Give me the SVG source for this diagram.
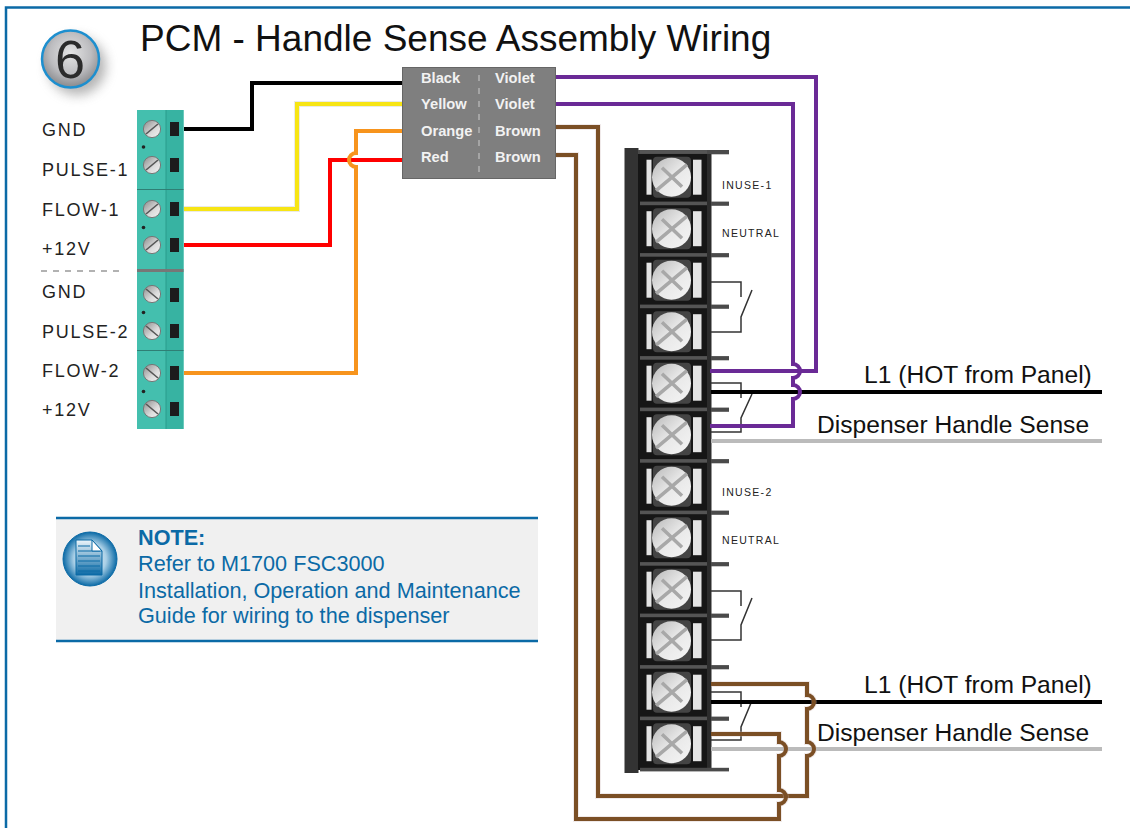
<svg xmlns="http://www.w3.org/2000/svg" xmlns:xlink="http://www.w3.org/1999/xlink" width="1130" height="828" viewBox="0 0 1130 828">
<style>
text{font-family:"Liberation Sans",Arial,sans-serif}
.w{fill:none;stroke-width:4;stroke-linejoin:miter}
.h{fill:none;stroke-width:6;stroke-opacity:.3;stroke-linejoin:miter}
.sw{fill:none;stroke:#333;stroke-width:1.5}
.lab{font-size:18px;letter-spacing:1.75px;fill:#222}
.tlab{font-size:10.5px;letter-spacing:1.3px;fill:#222}
.big{font-size:24.6px;fill:#111}
.box{font-size:14.7px;font-weight:bold;fill:#f2f2f2}
.note{font-size:21.65px;fill:#0b6aa6}
</style>
<defs>
<linearGradient id="gs" x1="0" y1="0" x2="1" y2="1"><stop offset="0" stop-color="#8a8a8a"/><stop offset=".6" stop-color="#dcdcdc"/><stop offset="1" stop-color="#f2f2f2"/></linearGradient>
<linearGradient id="gw" x1="0" y1="0" x2="1" y2="1"><stop offset="0" stop-color="#b8b8b8"/><stop offset=".5" stop-color="#e8e8e8"/><stop offset="1" stop-color="#f5f5f5"/></linearGradient>
<radialGradient id="gb" cx=".5" cy=".4" r=".6"><stop offset="0" stop-color="#e4e4e4"/><stop offset=".6" stop-color="#bdbdc0"/><stop offset="1" stop-color="#88898c"/></radialGradient>
<radialGradient id="gi" cx=".5" cy=".5" r=".5"><stop offset="0" stop-color="#ffffff"/><stop offset=".6" stop-color="#a9cfe6"/><stop offset="1" stop-color="#0b6aa6"/></radialGradient>
<linearGradient id="gd" x1="0" y1="0" x2="0" y2="1"><stop offset="0" stop-color="#eef6fb"/><stop offset="1" stop-color="#0b6aa6"/></linearGradient>
<filter id="sh" x="-40%" y="-40%" width="200%" height="200%"><feGaussianBlur stdDeviation="6"/></filter>
<g id="tscrew">
<circle r="8.6" fill="url(#gs)" stroke="#777" stroke-width="1"/>
<path d="M-6 5L6-5" stroke="#555" stroke-width="1.6"/>
</g>
<g id="tscrew2">
<circle r="8.6" fill="url(#gs)" stroke="#777" stroke-width="1"/>
<path d="M-6-5L6 5" stroke="#555" stroke-width="1.6"/>
</g>
<rect id="sq" x="-4.5" y="-7" width="9" height="14" fill="#1c1c1c"/>
<g id="cell">
<rect x="711" y="-1.6" width="18" height="4.2" fill="#4a4a4a"/>
<rect x="640" y="-1.6" width="67" height="3.6" fill="#555"/>
<rect x="646.500" y="8" width="5" height="35" fill="#e4e4e4"/>
<rect x="693" y="8" width="8.500" height="35" fill="#e4e4e4"/>
<rect x="653" y="5" width="38" height="41" rx="4" fill="#444"/>
<circle cx="671.500" cy="25.500" r="19.500" fill="url(#gw)"/>
<path d="M656 39L687 13M662 16L682 35" stroke="#a8a8a8" stroke-width="3.500" fill="none"/>
</g>
</defs>
<path d="M1130 7.500H6V828" fill="none" stroke="#0b6aa6" stroke-width="2.500"/>

<g id="badge">
<circle cx="77" cy="66" r="29" fill="#777" opacity=".55" filter="url(#sh)"/>
<circle cx="70.500" cy="59" r="28.500" fill="url(#gb)" stroke="#1d8fcf" stroke-width="2.500"/>
<text x="70" y="78" font-size="54" text-anchor="middle" fill="#2b2b2b">6</text>
</g>
<text id="title" x="140" y="51" font-size="37" fill="#111">PCM - Handle Sense Assembly Wiring</text>

<g id="pcm-block">
<rect x="137" y="110" width="46.500" height="319" fill="#44bfae"/>
<rect x="166" y="110" width="17.500" height="319" fill="#37b3a2"/>
<path d="M166 110V429" stroke="#2a9c8c" stroke-width="1"/>
<path d="M137 189.500H183.500M137 350.500H183.500" stroke="#2f7f75" stroke-width="1.200"/>
<path d="M137 270.500H183.500" stroke="#777" stroke-width="3"/>
<use xlink:href="#tscrew" x="152" y="129"/><use xlink:href="#tscrew" x="152" y="165"/>
<use xlink:href="#tscrew" x="152" y="209"/><use xlink:href="#tscrew" x="152" y="245"/>
<use xlink:href="#tscrew2" x="152" y="294"/><use xlink:href="#tscrew2" x="152" y="331"/>
<use xlink:href="#tscrew2" x="152" y="373"/><use xlink:href="#tscrew2" x="152" y="409"/>
<use xlink:href="#sq" x="174.500" y="129"/><use xlink:href="#sq" x="174.500" y="165"/>
<use xlink:href="#sq" x="174.500" y="209"/><use xlink:href="#sq" x="174.500" y="245"/>
<use xlink:href="#sq" x="174.500" y="295"/><use xlink:href="#sq" x="174.500" y="331"/>
<use xlink:href="#sq" x="174.500" y="373"/><use xlink:href="#sq" x="174.500" y="409"/>
<circle cx="143.500" cy="147" r="1.800" fill="#222"/><circle cx="143.500" cy="227.500" r="1.800" fill="#222"/>
<circle cx="143.500" cy="312.500" r="1.800" fill="#222"/><circle cx="143.500" cy="391.500" r="1.800" fill="#222"/>
</g>
<g id="pcm-labels">
<text class="lab" x="42" y="136">GND</text>
<text class="lab" x="42" y="176">PULSE-1</text>
<text class="lab" x="42" y="216">FLOW-1</text>
<text class="lab" x="42" y="255">+12V</text>
<path d="M41 271H124" stroke="#666" stroke-width="1.200" stroke-dasharray="6 6"/>
<text class="lab" x="42" y="298">GND</text>
<text class="lab" x="42" y="338">PULSE-2</text>
<text class="lab" x="42" y="377">FLOW-2</text>
<text class="lab" x="42" y="416">+12V</text>
</g>

<g id="terminal-strip">
<rect x="624.500" y="148" width="14" height="625" fill="#333"/>
<rect x="638" y="152" width="73" height="618" fill="#161616"/>
<rect x="707" y="152" width="4.500" height="618" fill="#2c2c2c"/>
<rect x="638" y="150" width="91" height="4" fill="#4a4a4a"/>
<use xlink:href="#cell" y="151.700"/><use xlink:href="#cell" y="203.200"/><use xlink:href="#cell" y="254.700"/>
<use xlink:href="#cell" y="306.200"/><use xlink:href="#cell" y="357.700"/><use xlink:href="#cell" y="409.200"/>
<use xlink:href="#cell" y="460.700"/><use xlink:href="#cell" y="512.200"/><use xlink:href="#cell" y="563.700"/>
<use xlink:href="#cell" y="615.200"/><use xlink:href="#cell" y="666.700"/><use xlink:href="#cell" y="718.200"/>
<rect x="640" y="767.800" width="89" height="3.600" fill="#4a4a4a"/>
<text class="tlab" x="722" y="189">INUSE-1</text>
<text class="tlab" x="722" y="237">NEUTRAL</text>
<text class="tlab" x="722" y="496">INUSE-2</text>
<text class="tlab" x="722" y="544">NEUTRAL</text>
</g>

<g id="connectors">
<path class="sw" d="M711 282H741V297M752 290L741 317V332H711"/>
<path class="sw" d="M711 383H741V398M752 394L741 418V432H711"/>
<path class="sw" d="M711 591H741V606M752 598L741 625V640H711"/>
<path class="sw" d="M711 692H741V707M751 703L741 727V740H711"/>

<path class="w" stroke="#000" d="M184 129H252V83H402"/>
<path class="h" stroke="#bba" d="M184 209H297V104H402"/>
<path class="w" stroke="#f7e514" d="M184 209H297V104H402"/>
<path class="w" stroke="#f00" d="M184 245H330V160H402"/>
<path class="w" stroke="#f7941d" d="M184 373H356V167A7 7 0 0 1 356 153V131H402"/>

<path class="w" stroke="#000" d="M711 392H1102"/>
<path class="w" stroke="#bbb" d="M711 441H1102"/>
<path class="w" stroke="#000" d="M711 702H1102"/>
<path class="w" stroke="#bbb" d="M711 749H1102"/>

<path class="w" stroke="#6a2a96" d="M555 77H816V371H710"/>
<path class="w" stroke="#6a2a96" d="M555 104H793V364A7 7 0 0 1 793 378V385A7 7 0 0 1 793 399V426H710"/>

<path class="h" stroke="#cbb" d="M555 127H598V796H807V756A7 7 0 0 0 807 742V709A7 7 0 0 0 807 695V684H711"/>
<path class="w" stroke="#7b4f25" d="M555 127H598V796H807V756A7 7 0 0 0 807 742V709A7 7 0 0 0 807 695V684H711"/>
<path class="h" stroke="#cbb" d="M555 155H576V819H779V804A7 7 0 0 0 779 790V756A7 7 0 0 0 779 742V734H711"/>
<path class="w" stroke="#7b4f25" d="M555 155H576V819H779V804A7 7 0 0 0 779 790V756A7 7 0 0 0 779 742V734H711"/>
</g>

<g id="wire-labels">
<text class="big" x="864" y="383">L1 (HOT from Panel)</text>
<text class="big" x="817" y="433">Dispenser Handle Sense</text>
<text class="big" x="864" y="693">L1 (HOT from Panel)</text>
<text class="big" x="817" y="741">Dispenser Handle Sense</text>
</g>

<g id="color-box">
<rect x="402.500" y="67.500" width="153" height="111" fill="#7f7f7f" stroke="#666"/>
<path d="M479 75V172" stroke="#ccc" stroke-width="1" stroke-dasharray="6 7"/>
<text class="box" x="421" y="83">Black</text>
<text class="box" x="421" y="109">Yellow</text>
<text class="box" x="421" y="136">Orange</text>
<text class="box" x="421" y="162">Red</text>
<text class="box" x="495" y="83">Violet</text>
<text class="box" x="495" y="109">Violet</text>
<text class="box" x="495" y="136">Brown</text>
<text class="box" x="495" y="162">Brown</text>
</g>

<g id="note">
<rect x="56" y="518" width="482" height="123" fill="#f0f0f0"/>
<path d="M56 518H538M56 641H538" stroke="#0b6aa6" stroke-width="2.500"/>
<circle cx="90" cy="559" r="27" fill="url(#gi)" stroke="#0b6aa6" stroke-width="1"/>
<path d="M76 540H92L102 551V575H76Z" fill="url(#gd)" stroke="#0b6aa6" stroke-width="1"/>
<path d="M78 546H90M78 551H100M78 556H100M78 561H100M78 566H100M78 571H100" stroke="#0b6aa6" stroke-width="1.200"/>
<path d="M92 540V551H102Z" fill="#fff" stroke="#0b6aa6" stroke-width="1"/>
<text class="note" x="138" y="545" font-weight="bold">NOTE:</text>
<text class="note" x="138" y="571">Refer to M1700 FSC3000</text>
<text class="note" x="138" y="598">Installation, Operation and Maintenance</text>
<text class="note" x="138" y="623">Guide for wiring to the dispenser</text>
</g>
</svg>
